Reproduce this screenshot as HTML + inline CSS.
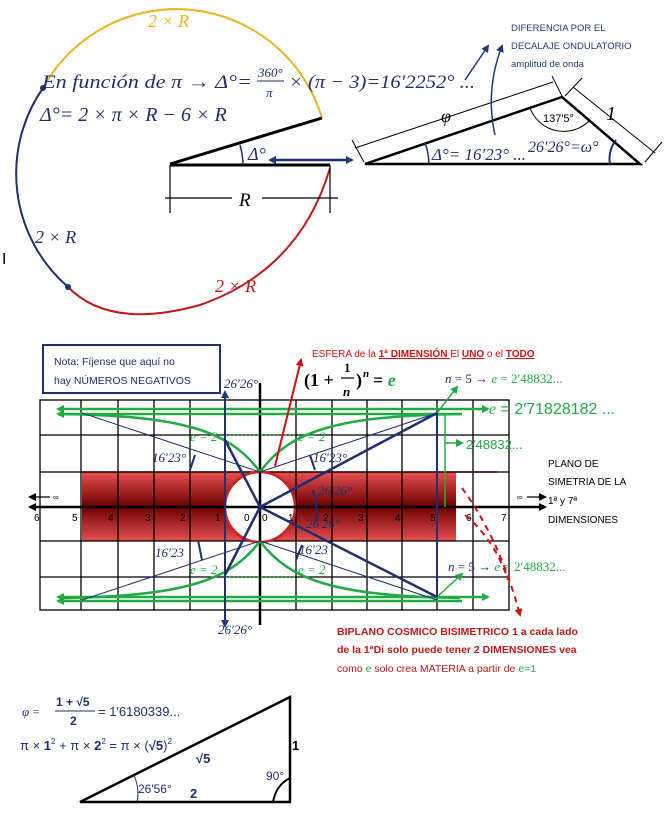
<!DOCTYPE html>
<html><head><meta charset="utf-8"><style>
html,body{margin:0;padding:0;background:#fff;}
svg{display:block;}
.s{font-family:"Liberation Serif",serif;font-style:italic;}
.a{font-family:"Liberation Sans",sans-serif;}
</style></head><body>
<svg width="666" height="823" viewBox="0 0 666 823" xmlns="http://www.w3.org/2000/svg">
<defs>
<marker id="ab" markerWidth="8" markerHeight="8" refX="6" refY="4" orient="auto-start-reverse" markerUnits="userSpaceOnUse"><path d="M0,0 L8,4 L0,8 Z" fill="#1f3a7a"/></marker>
<marker id="ak" markerWidth="8" markerHeight="8" refX="6" refY="4" orient="auto-start-reverse" markerUnits="userSpaceOnUse"><path d="M0,0 L8,4 L0,8 Z" fill="#000"/></marker>
<marker id="ag" markerWidth="8" markerHeight="8" refX="6" refY="4" orient="auto-start-reverse" markerUnits="userSpaceOnUse"><path d="M0,0 L8,4 L0,8 Z" fill="#22aa44"/></marker>
<marker id="ar" markerWidth="8" markerHeight="8" refX="6" refY="4" orient="auto-start-reverse" markerUnits="userSpaceOnUse"><path d="M0,0 L8,4 L0,8 Z" fill="#d01010"/></marker>
<linearGradient id="rg" x1="0" y1="0" x2="0" y2="1">
<stop offset="0" stop-color="#e85050"/><stop offset="0.5" stop-color="#6a0000"/><stop offset="1" stop-color="#e85050"/></linearGradient>
</defs>

<!-- TOP circle arcs -->
<path d="M43,88 A152,152 0 0 1 322,118" fill="none" stroke="#f0b020" stroke-width="2"/>
<path d="M43,88 A150,150 0 0 0 68,287" fill="none" stroke="#1f2f6f" stroke-width="2"/>
<path d="M68,287 Q110,330 200,305 Q300,270 330,168" fill="none" stroke="#c01818" stroke-width="2"/>
<circle cx="43" cy="88" r="3" fill="#1f2f6f"/><circle cx="68" cy="287" r="3" fill="#1f2f6f"/>
<text x="148" y="27" class="s" font-size="18" fill="#f0b020" font-style="normal">2 × <tspan font-style="italic">R</tspan></text>
<text x="35" y="243" class="s" font-size="18" fill="#1f2f6f" font-style="normal">2 × <tspan font-style="italic">R</tspan></text>
<text x="215" y="292" class="s" font-size="18" fill="#c01818" font-style="normal">2 × <tspan font-style="italic">R</tspan></text>
<text x="2" y="264" class="a" font-size="16">I</text>

<text x="42" y="88" class="s" font-size="19" fill="#1f2f6f" textLength="210" lengthAdjust="spacingAndGlyphs">En función de π →  Δ°=</text>
<text x="258" y="77" class="s" font-size="13" fill="#1f2f6f" font-style="normal">360°</text>
<line x1="257" y1="81" x2="284" y2="81" stroke="#1f2f6f" stroke-width="1"/>
<text x="266" y="97" class="s" font-size="13" fill="#1f2f6f">π</text>
<text x="289" y="88" class="s" font-size="19" fill="#1f2f6f" font-style="normal" textLength="186" lengthAdjust="spacingAndGlyphs">× (π − 3)=16′2252° ...</text>
<text x="40" y="121" class="s" font-size="20" fill="#1f2f6f">Δ°= 2 × π × R − 6 × R</text>

<line x1="170" y1="164" x2="322" y2="118" stroke="#000" stroke-width="3"/>
<line x1="170" y1="165" x2="330" y2="165" stroke="#000" stroke-width="3"/>
<path d="M240,145 A72,72 0 0 1 243,165" fill="none" stroke="#1f2f6f" stroke-width="1.5"/>
<text x="248" y="160" class="s" font-size="18" fill="#1f2f6f">Δ°</text>
<line x1="270" y1="160" x2="352" y2="160" stroke="#1f2f6f" stroke-width="2.5" marker-start="url(#ab)" marker-end="url(#ab)"/>
<line x1="170" y1="165" x2="170" y2="213" stroke="#000" stroke-width="1.2"/>
<line x1="330" y1="165" x2="330" y2="213" stroke="#000" stroke-width="1.2"/>
<line x1="165" y1="198" x2="232" y2="198" stroke="#000" stroke-width="1.2"/>
<line x1="262" y1="198" x2="338" y2="198" stroke="#000" stroke-width="1.2"/>
<text x="239" y="206" class="s" font-size="19">R</text>

<!-- right triangle -->
<polygon points="365,164 562,97 640,164" fill="none" stroke="#000" stroke-width="2.5"/>
<line x1="355" y1="148" x2="553" y2="82" stroke="#000" stroke-width="1"/>
<line x1="352" y1="140" x2="364" y2="162" stroke="#000" stroke-width="1"/>
<line x1="552" y1="76" x2="562" y2="96" stroke="#000" stroke-width="1"/>
<line x1="573" y1="87" x2="655" y2="153" stroke="#000" stroke-width="1"/>
<line x1="565" y1="96" x2="582" y2="78" stroke="#000" stroke-width="1"/>
<line x1="645" y1="162" x2="662" y2="142" stroke="#000" stroke-width="1"/>
<text x="441" y="122" class="s" font-size="18">φ</text>
<text x="606" y="120" class="s" font-size="20" font-style="normal">1</text>
<path d="M530,108 A36,36 0 0 0 590,120" fill="none" stroke="#000" stroke-width="1"/>
<text x="543" y="122" class="a" font-size="11">137′5°</text>
<path d="M425,143 A62,62 0 0 1 429,164" fill="none" stroke="#1f2f6f" stroke-width="1.5"/>
<text x="432" y="160" class="s" font-size="17" fill="#1f2f6f" font-style="normal">Δ°= 16′23° ...</text>
<text x="528" y="152" class="s" font-size="16" fill="#1f2f6f" font-style="normal">26′26°=<tspan font-style="italic">ω°</tspan></text>
<path d="M610,164 A30,30 0 0 1 616,140" fill="none" stroke="#1f2f6f" stroke-width="2"/>
<line x1="465" y1="80" x2="488" y2="46" stroke="#1f3a7a" stroke-width="1.5" marker-end="url(#ab)"/>
<path d="M495,135 Q485,90 502,46" fill="none" stroke="#1f3a7a" stroke-width="1.5" marker-end="url(#ab)"/>
<text x="511" y="31" class="a" font-size="9.5" fill="#1f3a7a">DIFERENCIA POR EL</text>
<text x="511" y="49" class="a" font-size="9.5" fill="#1f3a7a">DECALAJE ONDULATORIO</text>
<text x="511" y="67" class="a" font-size="9.5" fill="#1f3a7a">amplitud de onda</text>

<!-- MIDDLE -->
<rect x="43" y="345" width="177" height="48" fill="none" stroke="#1f2f6f" stroke-width="2"/>
<text x="54" y="365" class="a" font-size="10.5" fill="#1f2f6f">Nota: Fíjense  que aquí no</text>
<text x="54" y="384" class="a" font-size="10.5" fill="#1f2f6f">hay NÚMEROS NEGATIVOS</text>

<rect x="82" y="472" width="374" height="69" fill="url(#rg)"/>
<line x1="82" y1="472" x2="497" y2="472" stroke="#d02020" stroke-width="1.5"/>
<g stroke="#000" stroke-width="1.3">
<rect x="40" y="400" width="469" height="210" fill="none"/>
<line x1="40" y1="435" x2="509" y2="435"/><line x1="40" y1="472" x2="509" y2="472"/>
<line x1="40" y1="541" x2="509" y2="541"/><line x1="40" y1="577" x2="509" y2="577"/>
<line x1="81" y1="400" x2="81" y2="610"/><line x1="118" y1="400" x2="118" y2="610"/>
<line x1="154" y1="400" x2="154" y2="610"/><line x1="190" y1="400" x2="190" y2="610"/>
<line x1="225" y1="400" x2="225" y2="610"/><line x1="296" y1="400" x2="296" y2="610"/>
<line x1="332" y1="400" x2="332" y2="610"/><line x1="367" y1="400" x2="367" y2="610"/>
<line x1="402" y1="400" x2="402" y2="610"/><line x1="437" y1="400" x2="437" y2="610"/>
<line x1="473" y1="400" x2="473" y2="610"/>
</g>
<circle cx="260" cy="507" r="35" fill="#fff" stroke="#d02020" stroke-width="2.5"/>
<line x1="30" y1="507" x2="545" y2="507" stroke="#000" stroke-width="2.5" marker-start="url(#ak)" marker-end="url(#ak)"/>
<line x1="260" y1="383" x2="260" y2="625" stroke="#000" stroke-width="2.5"/>
<line x1="30" y1="497" x2="50" y2="497" stroke="#000" stroke-width="1.2" marker-start="url(#ak)"/>
<text x="53" y="500" class="a" font-size="8">∞</text>
<text x="517" y="500" class="a" font-size="8">∞</text>
<line x1="527" y1="497" x2="545" y2="497" stroke="#000" stroke-width="1.2" marker-end="url(#ak)"/>
<g class="a" font-size="10" fill="#000">
<text x="34" y="521">6</text><text x="72" y="521">5</text><text x="108" y="521">4</text><text x="145" y="521">3</text>
<text x="180" y="521">2</text><text x="215" y="521">1</text><text x="244" y="521">0</text><text x="262" y="521">0</text>
<text x="288" y="521">1</text><text x="323" y="521">2</text><text x="358" y="521">3</text><text x="395" y="521">4</text>
<text x="430" y="521">5</text><text x="466" y="521">6</text><text x="501" y="521">7</text>
</g>

<!-- green -->
<g stroke="#22aa44" stroke-width="2.5" fill="none">
<line x1="58" y1="409" x2="488" y2="409" marker-start="url(#ag)" marker-end="url(#ag)"/>
<line x1="58" y1="414" x2="462" y2="414" marker-start="url(#ag)"/>
<line x1="58" y1="597" x2="488" y2="597" marker-start="url(#ag)" marker-end="url(#ag)"/>
<line x1="58" y1="601" x2="462" y2="601" marker-start="url(#ag)"/>
<path d="M62,414 C180,416 230,430 260,472"/>
<path d="M260,472 C290,430 340,416 460,414"/>
<path d="M62,598 C180,596 230,582 260,541"/>
<path d="M260,541 C290,582 340,596 460,598"/>
</g>
<line x1="225" y1="435" x2="296" y2="435" stroke="#22aa44" stroke-width="1.5" stroke-dasharray="2,2"/>
<line x1="225" y1="577" x2="296" y2="577" stroke="#22aa44" stroke-width="1.5" stroke-dasharray="2,2"/>
<line x1="445" y1="413" x2="445" y2="507" stroke="#22aa44" stroke-width="1.5"/>
<line x1="445" y1="443" x2="462" y2="443" stroke="#22aa44" stroke-width="1.5" marker-end="url(#ag)"/>
<line x1="437" y1="413" x2="457" y2="387" stroke="#22aa44" stroke-width="1.5" marker-end="url(#ag)"/>
<line x1="437" y1="597" x2="462" y2="574" stroke="#22aa44" stroke-width="1.5" marker-end="url(#ag)"/>
<g class="s" font-size="13" fill="#22aa44">
<text x="190" y="441">e = 2</text><text x="298" y="441">e = 2</text>
<text x="190" y="574">e = 2</text><text x="298" y="574">e = 2</text>
</g>
<text x="466" y="449" class="a" font-size="13" fill="#22aa44">2′48832...</text>
<text x="489" y="414" class="a" font-size="16" fill="#22aa44"><tspan class="s">e</tspan> = 2′71828182 ...</text>

<!-- blue lines -->
<g stroke="#1f2f6f" fill="none">
<line x1="225" y1="392" x2="225" y2="626" stroke-width="2" marker-start="url(#ab)" marker-end="url(#ab)"/>
<line x1="437" y1="413" x2="437" y2="597" stroke-width="2"/>
<line x1="260" y1="507" x2="437" y2="413" stroke-width="2.5"/>
<line x1="260" y1="507" x2="437" y2="597" stroke-width="2.5"/>
<line x1="225" y1="440" x2="260" y2="507" stroke-width="2.5"/>
<line x1="225" y1="575" x2="260" y2="507" stroke-width="2.5"/>
<line x1="82" y1="413" x2="260" y2="472" stroke-width="1"/>
<line x1="260" y1="472" x2="437" y2="413" stroke-width="1"/>
<line x1="82" y1="600" x2="260" y2="541" stroke-width="1"/>
<line x1="260" y1="541" x2="437" y2="600" stroke-width="1"/>
<path d="M195,455 L190,470" stroke-width="2"/><path d="M310,455 L315,470" stroke-width="2"/>
<path d="M198,540 L202,560" stroke-width="2"/><path d="M302,545 L296,560" stroke-width="2"/>
<path d="M313,490 Q318,505 316,522" stroke-width="2"/>
</g>
<g class="s" font-size="13" fill="#1f2f6f" font-style="normal">
<text x="224" y="388">26′26°</text><text x="218" y="634">26′26°</text>
<text x="152" y="462">16′23°</text><text x="313" y="462">16′23°</text>
<text x="155" y="557">16′23</text><text x="299" y="554">16′23</text>
<text x="318" y="495">26′26°</text><text x="306" y="528">26′26°</text>
</g>
<text x="445" y="383" class="s" font-size="13" fill="#1f2f6f">n<tspan font-style="normal"> = 5 → </tspan><tspan fill="#22aa44">e</tspan><tspan font-style="normal" fill="#22aa44"> = 2′48832...</tspan></text>
<text x="448" y="571" class="s" font-size="13" fill="#1f2f6f">n<tspan font-style="normal"> = 5 → </tspan><tspan fill="#22aa44">e</tspan><tspan font-style="normal" fill="#22aa44"> = 2′48832...</tspan></text>

<g font-family="Liberation Serif,serif" font-weight="bold">
<text x="304" y="386" font-size="18">(1 +</text>
<text x="344" y="372" font-size="13">1</text>
<line x1="341" y1="378" x2="354" y2="378" stroke="#000" stroke-width="1.2"/>
<text x="343" y="396" font-style="italic" font-size="13">n</text>
<text x="356" y="386" font-size="18">)</text>
<text x="363" y="377" font-style="italic" font-size="11">n</text>
<text x="373" y="386" font-size="18">= <tspan fill="#22aa44" font-style="italic">e</tspan></text>
</g>

<text x="312" y="357" class="a" font-size="10" fill="#d01010">ESFERA de la <tspan font-weight="bold" text-decoration="underline">1ª DIMENSIÓN </tspan>El <tspan font-weight="bold" text-decoration="underline">UNO</tspan> o el <tspan font-weight="bold" text-decoration="underline">TODO</tspan></text>
<line x1="275" y1="466" x2="301" y2="360" stroke="#d01010" stroke-width="2" marker-end="url(#ar)"/>

<g class="a" font-size="10" fill="#000">
<text x="548" y="467">PLANO DE</text><text x="548" y="485">SIMETRIA DE LA</text>
<text x="548" y="504">1ª y 7ª</text><text x="548" y="523">DIMENSIONES</text>
</g>
<path d="M462,488 Q500,540 520,615" fill="none" stroke="#d01010" stroke-width="2" stroke-dasharray="6,5" marker-end="url(#ar)"/>
<path d="M465,515 Q495,540 508,580" fill="none" stroke="#d01010" stroke-width="2" stroke-dasharray="6,5"/>
<g class="a" font-size="10.5" fill="#c01818">
<text x="337" y="635" font-weight="bold">BIPLANO COSMICO BISIMETRICO 1 a cada lado</text>
<text x="337" y="653" font-weight="bold">de la 1ªDi  solo puede  tener 2 DIMENSIONES vea</text>
<text x="337" y="672">como  <tspan fill="#22aa44">e</tspan>  solo crea MATERIA a partir de  <tspan fill="#22aa44">e=1</tspan></text>
</g>

<!-- BOTTOM -->
<polygon points="80,802 290,697 290,802" fill="none" stroke="#000" stroke-width="2.5"/>
<path d="M134,775 Q140,790 137,802" fill="none" stroke="#1f2f6f" stroke-width="1"/>
<path d="M273,802 Q276,785 290,778" fill="none" stroke="#000" stroke-width="2"/>
<text x="22" y="716" class="s" font-size="13" fill="#1f2f6f">φ<tspan font-style="normal"> = </tspan></text>
<text x="56" y="706" font-family="Liberation Sans,sans-serif" font-size="12" font-weight="bold" fill="#1f2f6f">1 + √5</text>
<line x1="55" y1="711" x2="95" y2="711" stroke="#1f2f6f" stroke-width="1"/>
<text x="70" y="725" font-family="Liberation Sans,sans-serif" font-size="12" font-weight="bold" fill="#1f2f6f">2</text>
<text x="98" y="716" class="a" font-size="13" fill="#1f2f6f">= 1′6180339...</text>
<text x="20" y="750" class="a" font-size="13" fill="#1f2f6f">π × <tspan font-weight="bold">1</tspan><tspan font-size="8" dy="-6">2</tspan><tspan dy="6"> + π × </tspan><tspan font-weight="bold">2</tspan><tspan font-size="8" dy="-6">2</tspan><tspan dy="6"> = π × (</tspan><tspan font-weight="bold">√5</tspan>)<tspan font-size="8" dy="-6">2</tspan></text>
<text x="196" y="763" class="a" font-size="13" font-weight="bold" fill="#1f2f6f">√5</text>
<text x="292" y="750" class="a" font-size="13" font-weight="bold">1</text>
<text x="266" y="780" class="a" font-size="12" fill="#1f2f6f">90°</text>
<text x="138" y="793" class="a" font-size="12" fill="#1f2f6f">26′56°</text>
<text x="190" y="798" class="a" font-size="13" font-weight="bold" fill="#1f2f6f">2</text>
</svg>
</body></html>
